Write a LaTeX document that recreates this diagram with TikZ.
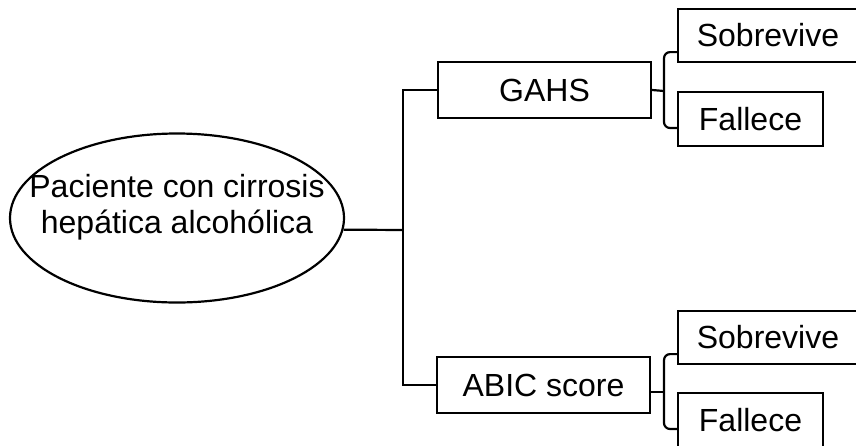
\documentclass[tikz,border=0pt]{standalone}
\usepackage{fontspec}
\setmainfont{Liberation Sans}
\usetikzlibrary{shapes.geometric}

\begin{document}
\begin{tikzpicture}[x=0.5pt, y=-0.5pt, line width=1.1pt,
    caja/.style={draw, rectangle, inner sep=0pt, minimum height=28pt, font=\fontsize{16}{18}\selectfont},
    llave/.style={rounded corners=3pt}]
            \clip (0,0) rectangle (856,445);

            % Paciente
            \node[draw, ellipse, minimum width=167pt, minimum height=84.5pt, inner sep=0pt] (pac) at (177,218) {};
            \node[align=center, inner sep=0pt, font=\fontsize{16}{18}\selectfont] (pactxt) at (177,207.5) {Paciente con cirrosis\\hepática alcohólica};

            % Escalas
            \node[caja, minimum width=106.5pt] (gahs) at (544.5,90) {GAHS};
            \node[caja, minimum width=106.5pt] (abic) at (543.5,385) {ABIC score};

            % Resultados GAHS
            \node[caja, minimum width=96pt, minimum height=26.5pt] (sob1) at (774,35.5) {\hspace*{-6pt}Sobrevive};
            \node[caja, minimum width=72.5pt, minimum height=27pt] (fal1) at (750.5,119) {Fallece};

            % Resultados ABIC
            \node[caja, minimum width=96pt, minimum height=26.5pt] (sob2) at (774,337.5) {\hspace*{-6pt}Sobrevive};
            \node[caja, minimum width=72.5pt, minimum height=27pt] (fal2) at (750.5,420) {Fallece};

            \coordinate (fork) at (403,230);
            \coordinate (br1) at (664,91);
            \coordinate (br2) at (664,392);

            \draw (pac.-4) -- (fork);
            \draw (gahs.west) -| (fork) |- (abic.west);

            \draw (gahs.east) -- (br1);
            \draw[llave] ([yshift=5.5pt]sob1.south west) -| (br1) |- ([yshift=-4.5pt]fal1.west);

            \draw ([yshift=-3.5pt]abic.east) -- (br2);
            \draw[llave] ([yshift=5.5pt]sob2.south west) -| (br2) |- ([yshift=-4.5pt]fal2.west);
\end{tikzpicture}
\end{document}
